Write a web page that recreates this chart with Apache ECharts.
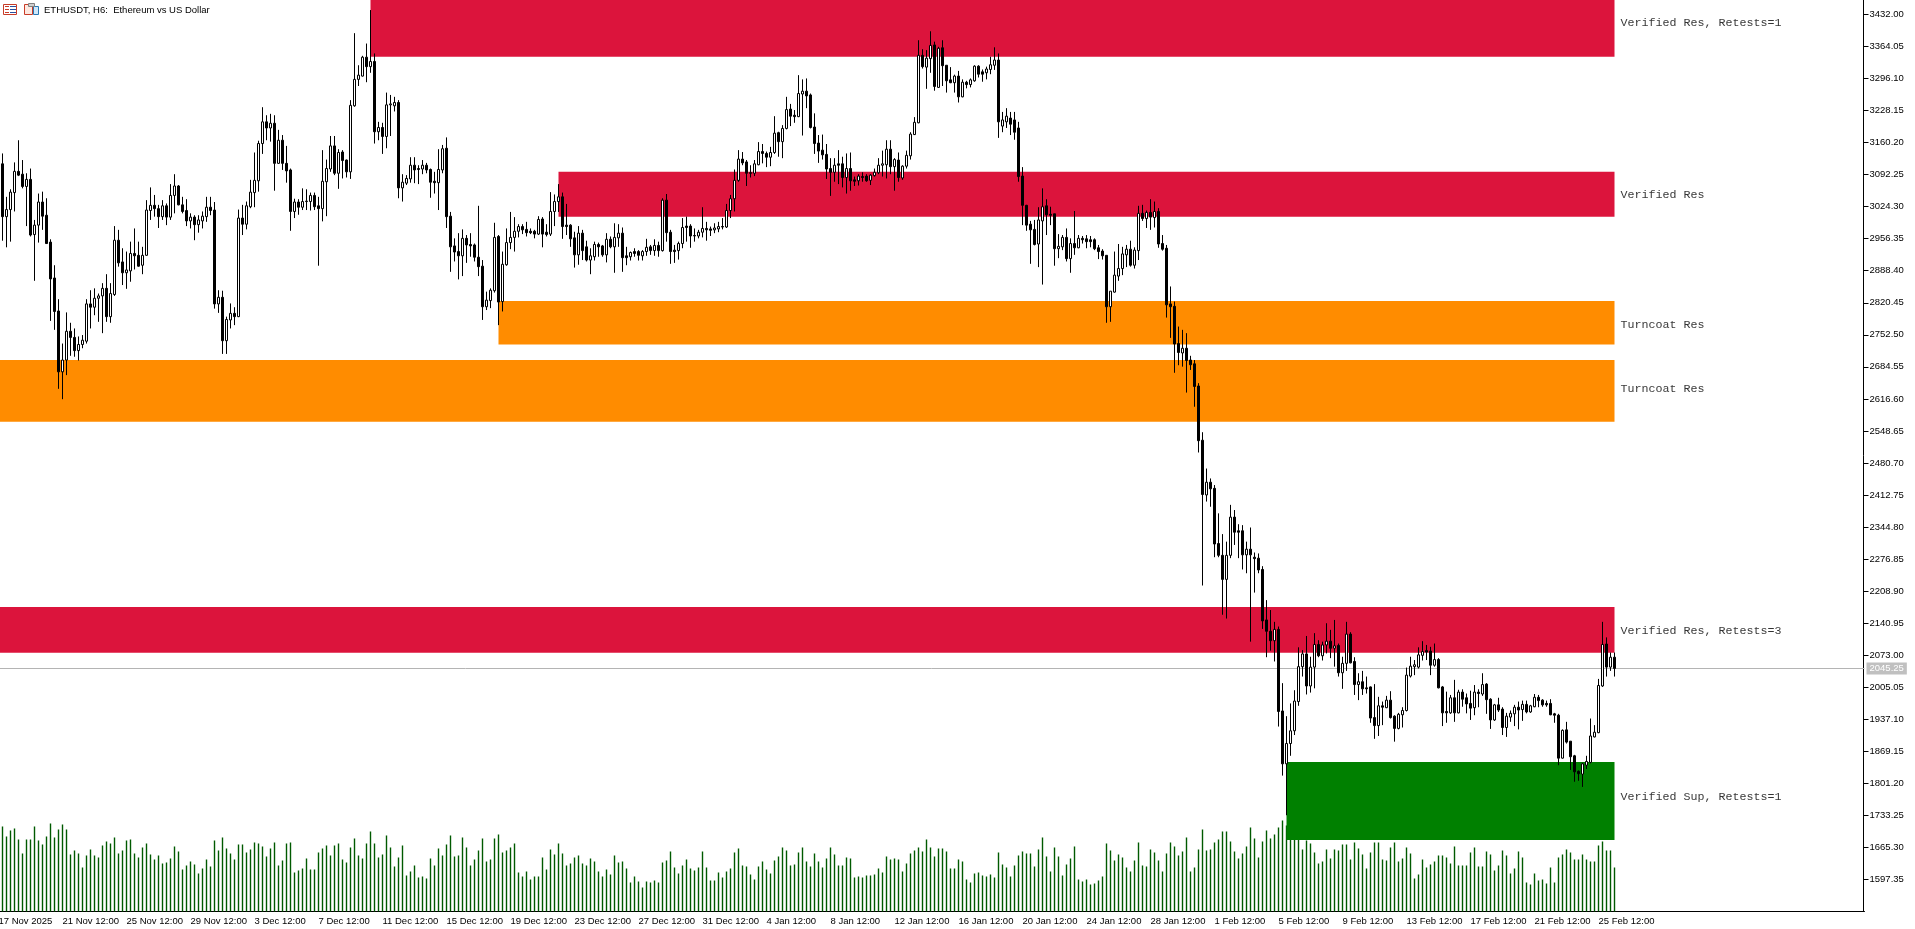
<!DOCTYPE html>
<html>
<head>
<meta charset="utf-8">
<title>ETHUSDT H6</title>
<script src="https://cdn.jsdelivr.net/npm/echarts@6/dist/echarts.min.js"></script>
<style>
html, body { margin: 0; padding: 0; background: #fff; }
#main { width: 1915px; height: 929px; }
</style>
</head>
<body>
<div id="main"></div>
<script>
// open, close, low, high for each H6 bar
var ohlc = [
[3115,3003,2952,3137],[3003,3018,2938,3045],[3018,3055,2950,3061],[3054,3099,3014,3118],[3099,3091,3089,3165],
[3093,3067,3063,3123],[3067,3082,2983,3095],[3082,2964,2961,3105],[2965,2985,2867,2996],[2985,3034,2948,3052],
[3034,3004,2975,3056],[3006,2946,2945,3042],[2949,2871,2782,2955],[2873,2802,2763,2900],[2803,2674,2638,2828],
[2674,2699,2616,2734],[2699,2760,2667,2800],[2760,2747,2708,2778],[2747,2719,2706,2766],[2719,2732,2698,2749],
[2732,2741,2724,2752],[2739,2818,2734,2828],[2818,2811,2766,2847],[2811,2830,2794,2851],[2830,2835,2780,2840],
[2835,2851,2756,2862],[2851,2791,2780,2881],[2791,2840,2778,2862],[2838,2953,2835,2983],[2953,2905,2897,2975],
[2907,2884,2858,2936],[2884,2890,2850,2929],[2888,2925,2865,2950],[2925,2920,2891,2978],[2921,2898,2897,2950],
[2900,2921,2881,2939],[2921,3017,2920,3038],[3016,3027,2996,3065],[3027,3020,3003,3049],[3020,3003,2979,3028],
[3003,3026,2996,3038],[3026,3002,2985,3031],[3002,3048,2996,3072],[3048,3068,3010,3093],[3068,3028,3027,3070],
[3028,3014,3010,3045],[3016,2994,2983,3040],[2994,3002,2978,3010],[3002,2986,2953,3006],[2986,2996,2969,3006],
[2994,3004,2978,3014],[3003,3023,2992,3045],[3023,3016,3006,3045],[3017,2818,2808,3034],[2818,2832,2799,2847],
[2832,2740,2712,2846],[2740,2785,2712,2791],[2784,2798,2766,2819],[2798,2791,2773,2811],[2791,3000,2790,3018],
[3000,2987,2964,3028],[2987,3026,2976,3035],[3024,3055,3021,3081],[3054,3080,3023,3139],[3079,3158,3056,3164],
[3158,3204,3136,3235],[3204,3191,3165,3218],[3191,3201,3162,3221],[3201,3116,3058,3218],[3116,3165,3115,3187],
[3165,3116,3102,3176],[3116,3100,3075,3153],[3102,3014,2973,3105],[3014,3034,3000,3041],[3034,3023,3007,3040],
[3023,3035,3017,3063],[3035,3036,3017,3061],[3035,3048,3016,3054],[3048,3024,3017,3054],[3026,3020,2899,3045],
[3020,3078,2993,3144],[3077,3105,3004,3124],[3104,3153,3098,3174],[3153,3095,3091,3174],[3095,3139,3062,3146],
[3140,3122,3084,3144],[3123,3098,3086,3124],[3098,3239,3083,3250],[3238,3294,3236,3392],[3294,3303,3280,3324],
[3301,3341,3300,3344],[3341,3321,3288,3370],[3321,3332,3308,3441],[3332,3183,3158,3349],[3183,3192,3165,3204],
[3192,3173,3136,3202],[3173,3240,3148,3266],[3240,3242,3174,3261],[3238,3245,3226,3257],[3245,3064,3042,3250],
[3064,3076,3035,3093],[3074,3084,3070,3091],[3083,3112,3075,3129],[3112,3102,3074,3129],[3105,3103,3072,3112],
[3104,3112,3093,3123],[3112,3102,3095,3117],[3103,3076,3043,3105],[3078,3075,3052,3098],[3075,3103,3017,3146],
[3102,3147,3095,3155],[3148,3003,2979,3171],[3004,2939,2886,3013],[2941,2928,2908,2957],[2929,2920,2870,2968],
[2920,2957,2877,2976],[2957,2943,2905,2964],[2944,2941,2918,2968],[2943,2917,2908,2946],[2917,2897,2877,3026],
[2898,2812,2784,2911],[2812,2826,2805,2844],[2825,2847,2809,2851],[2846,2959,2842,2990],[2961,2822,2773,2964],
[2823,2902,2802,2929],[2901,2948,2899,2978],[2948,2959,2934,3013],[2959,2972,2929,3002],[2972,2982,2959,2987],
[2982,2975,2966,2987],[2976,2969,2961,2992],[2972,2969,2966,2978],[2972,2966,2957,2975],[2966,2997,2964,3004],
[2998,2966,2938,3002],[2970,2965,2961,2987],[2966,3014,2962,3055],[3014,3035,2983,3050],[3035,3045,3013,3072],
[3045,2982,2956,3054],[2985,2982,2964,3030],[2985,2956,2939,2987],[2958,2922,2895,2971],[2922,2968,2901,2983],
[2968,2931,2911,2975],[2939,2911,2908,2952],[2911,2920,2881,2936],[2918,2944,2910,2950],[2944,2939,2918,2948],
[2941,2922,2918,2943],[2922,2955,2906,2968],[2955,2939,2936,2961],[2939,2959,2884,2989],[2958,2968,2939,2987],
[2968,2916,2886,2980],[2920,2916,2900,2939],[2918,2927,2910,2929],[2929,2925,2918,2936],[2929,2921,2910,2932],
[2920,2929,2910,2932],[2929,2938,2920,2956],[2939,2931,2922,2943],[2931,2942,2920,2955],[2942,2931,2918,2950],
[2931,3038,2929,3042],[3038,2969,2950,3051],[2970,2929,2903,2975],[2932,2929,2905,2943],[2931,2946,2912,2950],
[2946,2980,2936,3000],[2983,2980,2950,3003],[2983,2962,2937,2987],[2963,2962,2950,2978],[2962,2970,2957,2975],
[2970,2978,2959,3023],[2978,2975,2952,2992],[2977,2974,2962,2982],[2975,2979,2968,2989],[2977,2982,2970,2992],
[2982,2981,2976,3000],[2981,3016,2979,3030],[3016,3041,3000,3049],[3041,3080,3014,3103],[3080,3125,3077,3144],
[3125,3117,3112,3140],[3119,3095,3068,3123],[3096,3095,3086,3112],[3095,3115,3089,3123],[3113,3141,3112,3161],
[3141,3137,3116,3157],[3137,3129,3108,3141],[3129,3139,3110,3151],[3139,3180,3136,3216],[3181,3162,3130,3183],
[3162,3190,3127,3197],[3190,3230,3188,3257],[3231,3216,3195,3242],[3218,3215,3202,3229],[3215,3264,3214,3303],
[3263,3269,3175,3294],[3269,3259,3233,3296],[3261,3192,3190,3264],[3193,3158,3136,3222],[3159,3142,3117,3176],
[3144,3134,3124,3177],[3135,3104,3083,3157],[3105,3097,3047,3127],[3097,3112,3077,3127],[3115,3112,3072,3144],
[3115,3086,3065,3130],[3086,3105,3052,3137],[3105,3079,3058,3139],[3081,3078,3068,3088],[3079,3089,3069,3093],
[3088,3086,3077,3097],[3089,3079,3077,3093],[3080,3091,3070,3093],[3090,3097,3088,3105],[3096,3112,3093,3127],
[3112,3115,3088,3143],[3113,3146,3084,3165],[3146,3109,3093,3165],[3109,3124,3058,3127],[3123,3086,3077,3139],
[3085,3110,3081,3112],[3110,3133,3105,3143],[3132,3178,3124,3182],[3177,3203,3176,3214],[3202,3345,3201,3377],
[3345,3321,3317,3358],[3320,3339,3274,3356],[3338,3366,3308,3396],[3367,3279,3270,3374],[3277,3360,3276,3363],
[3361,3323,3280,3377],[3324,3291,3266,3324],[3293,3287,3286,3320],[3287,3301,3266,3304],[3301,3257,3245,3312],
[3257,3288,3256,3294],[3288,3283,3275,3291],[3283,3293,3277,3296],[3291,3322,3289,3324],[3322,3305,3298,3324],
[3310,3305,3289,3315],[3308,3316,3294,3321],[3315,3325,3305,3342],[3324,3335,3314,3362],[3335,3204,3170,3349],
[3195,3208,3182,3225],[3204,3216,3191,3233],[3212,3199,3176,3225],[3208,3182,3166,3225],[3191,3088,3077,3204],
[3089,3027,2985,3108],[3027,2985,2973,3028],[2987,2975,2903,2994],[2976,2944,2942,2996],[2945,2996,2896,3023],
[2994,3024,2859,3063],[3026,3007,2964,3040],[3008,3006,2985,3024],[3009,2935,2899,3009],[2935,2940,2915,2966],
[2939,2959,2932,2964],[2959,2914,2908,2978],[2914,2946,2884,2957],[2946,2937,2922,3015],[2937,2957,2936,2964],
[2957,2954,2946,2962],[2956,2950,2936,2964],[2954,2950,2938,2962],[2954,2935,2932,2957],[2937,2929,2913,2943],
[2930,2920,2912,2934],[2921,2812,2778,2921],[2812,2845,2780,2845],[2843,2879,2842,2929],[2877,2893,2867,2945],
[2893,2924,2879,2939],[2922,2934,2896,2943],[2934,2900,2897,2952],[2900,2932,2893,2938],[2931,3010,2911,3026],
[3010,2999,2994,3028],[2999,3012,2979,3016],[3012,3002,2975,3040],[3001,3014,2980,3035],[3014,2945,2937,3021],
[2946,2934,2931,2964],[2936,2816,2789,2943],[2818,2812,2746,2855],[2813,2733,2672,2823],[2734,2715,2688,2770],
[2714,2724,2685,2763],[2724,2698,2630,2756],[2699,2689,2678,2708],[2691,2643,2600,2699],[2644,2528,2503,2650],
[2529,2414,2221,2546],[2413,2440,2399,2469],[2440,2426,2388,2448],[2427,2309,2281,2434],[2310,2285,2281,2374],
[2285,2234,2159,2330],[2234,2285,2151,2314],[2285,2366,2279,2392],[2366,2334,2307,2381],[2337,2334,2279,2351],
[2337,2286,2255,2349],[2286,2298,2247,2314],[2298,2286,2102,2344],[2281,2278,2206,2291],[2279,2254,2247,2289],
[2255,2146,2129,2262],[2148,2124,2069,2190],[2124,2104,2083,2169],[2104,2128,2060,2144],[2128,1954,1922,2134],
[1955,1843,1818,2014],[1843,1886,1734,1944],[1886,1913,1860,1971],[1913,1976,1904,1999],[1975,2049,1966,2090],
[2049,2076,2028,2084],[2076,2008,1990,2114],[2008,2048,1994,2070],[2048,2096,2003,2120],[2096,2072,2069,2105],
[2072,2095,2062,2102],[2095,2103,2077,2141],[2103,2088,2067,2127],[2088,2093,2049,2148],[2094,2036,2028,2098],
[2036,2056,2002,2070],[2056,2118,2040,2144],[2118,2057,2056,2122],[2060,2011,1989,2069],[2011,2017,1978,2035],
[2017,2002,1989,2040],[2004,2002,1992,2028],[2006,1940,1930,2007],[1941,1924,1896,2012],[1924,1966,1902,1985],
[1966,1963,1925,1975],[1962,1978,1961,1987],[1978,1941,1939,1997],[1944,1918,1890,1946],[1918,1948,1916,1951],
[1947,1956,1920,1963],[1956,2031,1954,2047],[2029,2050,2026,2070],[2049,2053,2031,2063],[2048,2074,2045,2090],
[2073,2081,2062,2103],[2083,2080,2063,2095],[2082,2052,2031,2091],[2052,2064,2049,2098],[2064,2004,2003,2067],
[2006,1951,1923,2008],[1954,1951,1930,1996],[1951,1983,1949,1989],[1983,1951,1932,2021],[1951,1995,1950,2000],
[1995,1980,1964,2001],[1983,1970,1950,1992],[1971,1961,1936,1998],[1962,1995,1946,2010],[1995,1992,1963,2001],
[1991,2011,1987,2035],[2012,1979,1949,2014],[1980,1936,1917,1982],[1936,1968,1934,1970],[1968,1957,1953,1983],
[1959,1920,1904,1963],[1920,1944,1900,1951],[1942,1950,1932,1956],[1949,1963,1923,1968],[1963,1957,1916,1975],
[1958,1969,1934,1977],[1969,1953,1950,1977],[1953,1966,1951,1968],[1964,1984,1963,1991],[1984,1977,1963,1989],
[1978,1968,1964,1980],[1971,1968,1964,1977],[1971,1947,1946,1980],[1949,1946,1930,1951],[1946,1855,1840,1949],
[1855,1914,1854,1916],[1915,1889,1886,1932],[1891,1858,1830,1891],[1860,1826,1805,1862],[1827,1822,1807,1829],
[1821,1843,1794,1845],[1840,1848,1832,1860],[1846,1902,1844,1939],[1900,1910,1899,1925],[1909,2009,1908,2023],
[2008,2096,2006,2144],[2097,2048,2028,2111],[2048,2069,2040,2079],[2069,2045.25,2028,2079]
];

// tick volume, arbitrary units
var volumes = [
255,225,243,249,216,174,216,216,255,213,201,225,264,222,246,261,246,171,183,174,132,168,186,168,162,
198,210,204,222,174,183,213,216,174,162,192,204,171,156,168,144,147,159,195,180,126,138,150,141,114,
129,156,135,213,183,222,189,174,156,201,201,177,186,207,204,195,165,189,207,138,153,204,207,117,123,
129,159,126,126,177,189,198,168,198,204,156,147,192,219,168,159,204,240,204,162,171,228,192,135,162,
198,108,120,138,102,105,99,159,138,189,168,201,228,165,168,222,192,138,156,183,219,150,156,219,231,
177,183,192,204,117,105,120,96,105,105,162,126,186,171,204,174,138,144,162,168,144,138,159,150,120,
105,126,111,168,147,150,129,87,105,90,72,90,87,93,87,147,153,180,132,114,138,156,129,123,132,
180,132,93,93,117,102,120,129,177,189,138,135,111,96,135,150,126,114,153,165,192,183,138,141,177,
192,150,135,174,150,132,159,192,171,138,138,162,159,102,105,102,108,108,111,129,117,165,156,159,156,
120,144,174,183,192,180,216,192,165,189,189,180,129,129,156,150,96,87,114,117,108,105,111,102,177,
141,132,105,138,168,180,174,174,135,186,222,165,120,192,165,108,141,159,195,96,90,96,81,84,93,
105,204,183,153,171,162,132,120,153,207,138,135,186,177,153,120,174,207,195,168,180,222,120,132,186,
246,183,186,207,216,240,240,210,180,159,174,195,252,219,162,210,243,219,231,252,273,
258,240,225,222,186,213,204,177,144,150,186,159,186,183,201,201,156,207,189,171,129,177,207,207,156,
153,192,207,150,159,192,174,99,111,156,132,141,150,168,168,162,144,195,138,138,138,177,192,135,135,
180,171,123,138,183,168,114,129,180,162,87,81,114,93,96,84,132,87,162,171,186,177,156,156,171,
156,150,150,198,210,183,183,132
];

var xTickLabels = [
'17 Nov 2025','21 Nov 12:00','25 Nov 12:00','29 Nov 12:00','3 Dec 12:00','7 Dec 12:00','11 Dec 12:00',
'15 Dec 12:00','19 Dec 12:00','23 Dec 12:00','27 Dec 12:00','31 Dec 12:00','4 Jan 12:00','8 Jan 12:00',
'12 Jan 12:00','16 Jan 12:00','20 Jan 12:00','24 Jan 12:00','28 Jan 12:00','1 Feb 12:00','5 Feb 12:00',
'9 Feb 12:00','13 Feb 12:00','17 Feb 12:00','21 Feb 12:00','25 Feb 12:00'
];
var priceTicks = [
3432.00,3364.05,3296.10,3228.15,3160.20,3092.25,3024.30,2956.35,2888.40,2820.45,2752.50,2684.55,2616.60,2548.65,
2480.70,2412.75,2344.80,2276.85,2208.90,2140.95,2073.00,2005.05,1937.10,1869.15,1801.20,1733.25,1665.30,1597.35
];

// first bar, last bar, high, low
var zoneRanges = [
[93,404,3489,3342],[140,404,3098,3003],[125,404,2824,2732],[0,404,2699,2568],[0,404,2175.5,2078.6],[322,404,1847,1681.5]
];
var zoneColors = ['#DC143C','#DC143C','#FF8C00','#FF8C00','#DC143C','#008000'];
var zoneLabels = ['Verified Res, Retests=1','Verified Res','Turncoat Res','Turncoat Res','Verified Res, Retests=3','Verified Sup, Retests=1'];
var zoneLabelPrices = [3414,3049,2774,2638,2125,1773];

var lastPrice = 2045.25;
var barsOnAxis = 467;
var ticksEvery = 16;

var categories = [];
for (var i = 0; i < barsOnAxis; i++) {
    categories.push(String(i));
}
// the axis starts one bar before the first drawn one, that is where the 17 Nov label sits
var candleData = ['-'].concat(ohlc);
var volumeData = ['-'].concat(volumes);

var zoneAreas = [];
var zoneTexts = [];
for (var z = 0; z < zoneRanges.length; z++) {
    var r = zoneRanges[z];
    zoneAreas.push([
        {xAxis: r[0], yAxis: r[2], itemStyle: {color: zoneColors[z], opacity: 1, borderWidth: 0}},
        {xAxis: r[1], yAxis: r[3]}
    ]);
    zoneTexts.push([r[1], zoneLabelPrices[z]]);
}

var axisFont = 'Liberation Sans';

var myChart = echarts.init(document.getElementById('main'), null, {renderer: 'canvas'});
var option = {
    animation: false,
    backgroundColor: '#fff',
    title: {
        text: 'ETHUSDT, H6:  Ethereum vs US Dollar',
        left: 44,
        top: 5,
        padding: 0,
        textStyle: {fontFamily: axisFont, fontSize: 9.5, fontWeight: 'normal', color: '#000'}
    },
    graphic: [
        // chart window icons next to the title
        {type: 'rect', shape: {x: 3.5, y: 4.5, width: 13, height: 10}, style: {fill: '#fff', stroke: '#c83c28', lineWidth: 1}},
        {type: 'rect', shape: {x: 5, y: 6, width: 4, height: 1}, style: {fill: '#c83c28'}},
        {type: 'rect', shape: {x: 5, y: 9, width: 4, height: 1}, style: {fill: '#c83c28'}},
        {type: 'rect', shape: {x: 5, y: 12, width: 4, height: 1}, style: {fill: '#c83c28'}},
        {type: 'rect', shape: {x: 10, y: 6, width: 6, height: 1}, style: {fill: '#2850a0'}},
        {type: 'rect', shape: {x: 10, y: 9, width: 6, height: 1}, style: {fill: '#2850a0'}},
        {type: 'rect', shape: {x: 10, y: 12, width: 6, height: 1}, style: {fill: '#2850a0'}},
        {type: 'rect', shape: {x: 24.5, y: 4.5, width: 8, height: 10}, style: {fill: '#fde8e0', stroke: '#c83c28', lineWidth: 1}},
        {type: 'rect', shape: {x: 33.5, y: 6.5, width: 5, height: 8}, style: {fill: '#cfe8fa', stroke: '#2878b4', lineWidth: 1}},
        {type: 'rect', shape: {x: 28.5, y: 3.5, width: 6, height: 3}, style: {fill: '#d0d0d0', stroke: '#808080', lineWidth: 1}}
    ],
    grid: {left: -3.5, right: 50.5, top: 0, bottom: 17.5, outerBoundsMode: 'none'},
    xAxis: {
        type: 'category',
        data: categories,
        boundaryGap: true,
        axisLine: {lineStyle: {color: '#000', width: 1}},
        axisTick: {
            alignWithLabel: true,
            length: 5,
            lineStyle: {color: '#000'},
            interval: function (index) { return index % ticksEvery === 0; }
        },
        axisLabel: {
            fontFamily: axisFont,
            fontSize: 9.5,
            color: '#000',
            align: 'left',
            margin: 5,
            hideOverlap: false,
            interval: function (index) { return index % ticksEvery === 0; },
            formatter: function (value, index) { return xTickLabels[index / ticksEvery] || ''; }
        },
        splitLine: {show: false}
    },
    yAxis: [
        {
            type: 'value',
            position: 'right',
            offset: -1,
            min: 1529.9,
            max: 3462.3,
            axisLine: {show: true, onZero: false, lineStyle: {color: '#000', width: 1}},
            axisTick: {show: true, length: 5, lineStyle: {color: '#000'}, customValues: priceTicks},
            axisLabel: {
                fontFamily: axisFont,
                fontSize: 9.5,
                color: '#000',
                margin: 6,
                customValues: priceTicks,
                formatter: function (value) { return value.toFixed(2); }
            },
            splitLine: {show: false}
        },
        {type: 'value', show: false, min: 0, max: 2734}
    ],
    series: [
        {
            name: 'volume',
            type: 'bar',
            yAxisIndex: 1,
            z: 0,
            barWidth: 1.4,
            silent: true,
            itemStyle: {color: '#005a00'},
            data: volumeData
        },
        {
            name: 'ETHUSDT',
            type: 'candlestick',
            z: 3,
            barWidth: 2,
            data: candleData,
            itemStyle: {color: '#fff', color0: '#000', borderColor: '#000', borderColor0: '#000', borderWidth: 1},
            markArea: {silent: true, z: 1, data: zoneAreas},
            markLine: {
                silent: true,
                symbol: 'none',
                z: 2,
                lineStyle: {color: '#b4b4b4', type: 'solid', width: 1},
                label: {
                    position: 'end',
                    distance: 2,
                    fontFamily: axisFont,
                    fontSize: 9.5,
                    color: '#fff',
                    backgroundColor: '#c0c0c0',
                    padding: [1, 3],
                    formatter: function () { return lastPrice.toFixed(2); }
                },
                data: [{yAxis: lastPrice}]
            }
        },
        {
            name: 'zone labels',
            type: 'scatter',
            symbolSize: 0,
            silent: true,
            z: 4,
            data: zoneTexts,
            label: {
                show: true,
                position: 'right',
                distance: 6,
                fontFamily: 'Liberation Mono',
                fontSize: 11.67,
                color: '#000',
                formatter: function (p) { return zoneLabels[p.dataIndex]; }
            }
        }
    ]
};
myChart.setOption(option);
</script>
</body>
</html>
